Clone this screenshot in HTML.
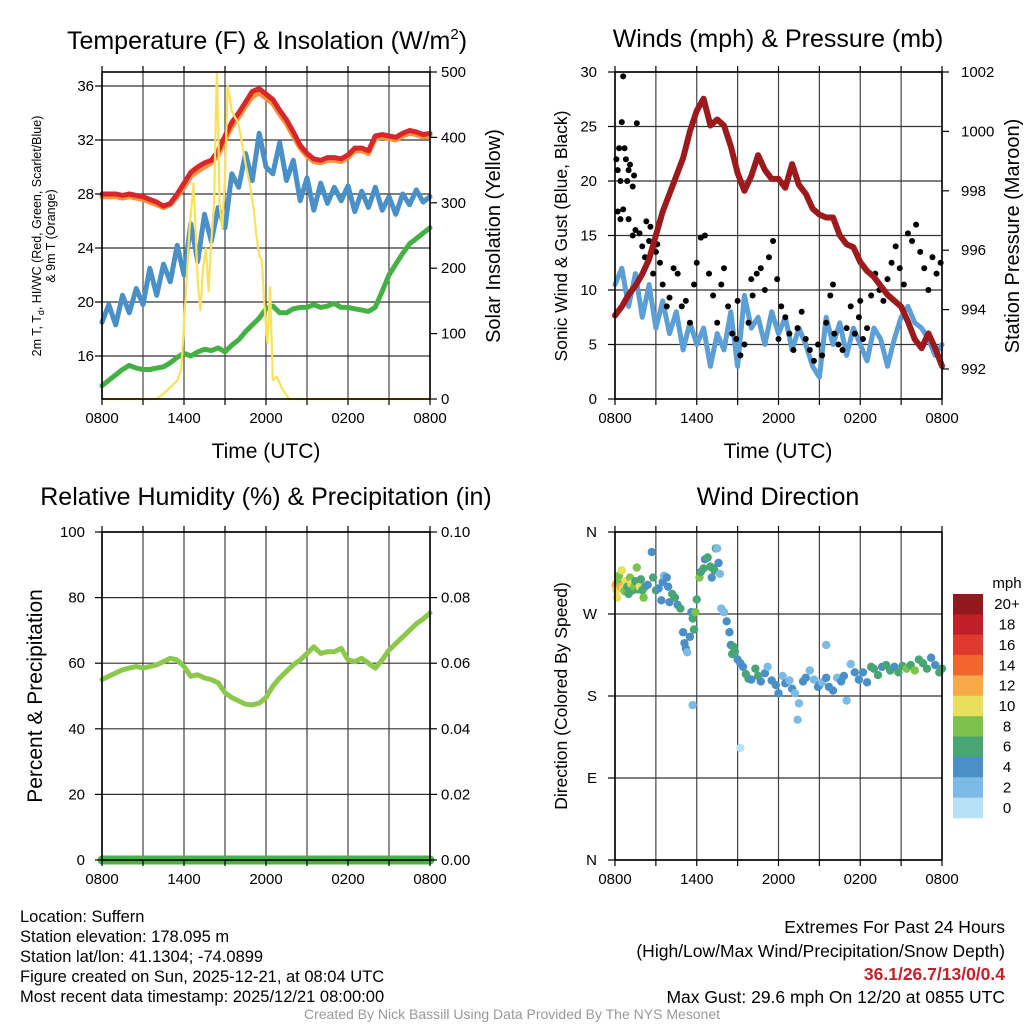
<!DOCTYPE html>
<html><head><meta charset="utf-8">
<style>
html,body{margin:0;padding:0;background:#fff;}
svg{display:block;font-family:"Liberation Sans",Arial,sans-serif;}
</style></head>
<body>
<svg id="chart" width="1024" height="1024" viewBox="0 0 1024 1024" xmlns="http://www.w3.org/2000/svg">
  <rect x="0" y="0" width="1024" height="1024" fill="#fff"/>
  <g id="gridLayer"></g>
  <g id="dataLayer"></g>
  <g id="axisLayer"></g>

  <text x="267" y="49" font-size="25" text-anchor="middle">Temperature (F) &amp; Insolation (W/m<tspan dy="-10" font-size="15">2</tspan><tspan dy="10">)</tspan></text>
  <text x="778" y="47" font-size="25" text-anchor="middle">Winds (mph) &amp; Pressure (mb)</text>
  <text x="266" y="505" font-size="25" text-anchor="middle">Relative Humidity (%) &amp; Precipitation (in)</text>
  <text x="778" y="505" font-size="25" text-anchor="middle">Wind Direction</text>

  <text x="266" y="458" font-size="21" text-anchor="middle">Time (UTC)</text>
  <text x="778" y="458" font-size="21" text-anchor="middle">Time (UTC)</text>

  <text transform="translate(41,236) rotate(-90)" font-size="12.5" text-anchor="middle">2m T, T<tspan dy="3" font-size="9">d</tspan><tspan dy="-3">, HI/WC (Red, Green, Scarlet/Blue)</tspan></text>
  <text transform="translate(55,236) rotate(-90)" font-size="12.5" text-anchor="middle">&amp; 9m T (Orange)</text>
  <text transform="translate(500,236) rotate(-90)" font-size="20" text-anchor="middle">Solar Insolation (Yellow)</text>
  <text transform="translate(567,236) rotate(-90)" font-size="17.5" text-anchor="middle">Sonic Wind &amp; Gust (Blue, Black)</text>
  <text transform="translate(1019,236) rotate(-90)" font-size="20" text-anchor="middle">Station Pressure (Maroon)</text>
  <text transform="translate(42,696) rotate(-90)" font-size="21" text-anchor="middle">Percent &amp; Precipitation</text>
  <text transform="translate(567,696) rotate(-90)" font-size="17.5" text-anchor="middle">Direction (Colored By Speed)</text>

  <g font-size="16.5">
    <text x="20" y="922">Location: Suffern</text>
    <text x="20" y="942">Station elevation: 178.095 m</text>
    <text x="20" y="962">Station lat/lon: 41.1304; -74.0899</text>
    <text x="20" y="982">Figure created on Sun, 2025-12-21, at 08:04 UTC</text>
    <text x="20" y="1002">Most recent data timestamp: 2025/12/21 08:00:00</text>
  </g>
  <g font-size="17.5" text-anchor="end">
    <text x="1005" y="933">Extremes For Past 24 Hours</text>
    <text x="1005" y="957">(High/Low/Max Wind/Precipitation/Snow Depth)</text>
    <text x="1005" y="980" fill="#c8202a" font-weight="bold">36.1/26.7/13/0/0.4</text>
    <text x="1005" y="1003">Max Gust: 29.6 mph On 12/20 at 0855 UTC</text>
  </g>
  <text x="512" y="1019" font-size="14" fill="#999" text-anchor="middle">Created By Nick Bassill Using Data Provided By The NYS Mesonet</text>
</svg>
<script>
const hours=[0,0.5,1,1.5,2,2.5,3,3.5,4,4.5,5,5.5,6,6.5,7,7.5,8,8.5,9,9.5,10,10.5,11,11.5,12,12.5,13,13.5,14,14.5,15,15.5,16,16.5,17,17.5,18,18.5,19,19.5,20,20.5,21,21.5,22,22.5,23,23.5,24];
const xTickLabels=['0800','1400','2000','0200','0800'];
const tempF=[28.0,28.0,28.0,27.9,28.0,27.9,27.8,27.6,27.4,27.1,27.3,28.0,28.8,29.6,30.0,30.3,30.5,31.2,32.3,33.3,34.0,34.8,35.6,35.8,35.4,35.0,34.2,33.5,32.6,31.6,31.0,30.6,30.5,30.7,30.7,30.6,30.9,31.4,31.4,31.2,32.3,32.4,32.3,32.2,32.5,32.7,32.6,32.4,32.5];
const temp9mF=[27.8,27.8,27.8,27.7,27.8,27.7,27.6,27.4,27.2,27.0,27.2,27.8,28.5,29.3,29.7,30.0,30.3,30.9,32.0,33.0,33.7,34.5,35.2,35.5,35.1,34.7,33.9,33.2,32.3,31.4,30.8,30.4,30.3,30.5,30.5,30.4,30.7,31.2,31.2,31.0,32.1,32.2,32.1,32.0,32.3,32.5,32.4,32.2,32.3];
const windChillF=[18.5,19.8,18.3,20.5,19.2,21.0,19.8,22.5,20.5,22.8,21.5,24.2,22.0,25.8,23.0,26.5,24.5,27.0,25.5,29.5,28.5,31.0,29.0,32.5,30.0,29.5,31.8,29.0,30.5,27.5,29.2,26.8,28.8,27.3,28.5,27.5,28.6,26.7,28.2,27.0,28.5,26.8,27.8,26.5,28.0,27.2,28.3,27.4,27.8];
const dewF=[13.8,14.2,14.6,15.0,15.3,15.1,15.0,15.0,15.1,15.2,15.5,15.9,16.2,16.0,16.3,16.5,16.4,16.6,16.3,16.8,17.2,17.8,18.3,18.8,19.5,19.7,19.2,19.2,19.5,19.6,19.6,19.8,19.6,19.7,19.9,19.6,19.6,19.5,19.4,19.3,19.6,20.8,22.0,22.8,23.6,24.3,24.7,25.1,25.5];
const solarT=[0,4.0,4.5,5.0,5.5,5.8,6.1,6.4,6.7,7.0,7.2,7.4,7.6,7.8,8.0,8.2,8.4,8.5,8.6,8.8,9.0,9.2,9.5,10.0,10.5,10.8,11.1,11.3,11.5,11.7,11.9,12.1,12.3,12.5,12.8,13.2,13.7,24];
const solarW=[0,0,8,18,28,45,150,260,330,180,136,200,230,165,240,300,500,420,300,260,340,479,440,420,360,330,290,250,220,212,140,85,171,29,34,15,0,0];
const windMph=[10.5,12.0,8.5,11.5,7.5,10.5,6.5,9.0,6.0,8.0,4.5,7.0,5.0,6.5,3.0,6.0,4.5,8.0,3.0,9.5,6.5,7.5,5.0,8.0,6.0,7.5,4.5,6.5,5.0,3.0,2.0,7.5,5.0,7.0,4.0,6.5,5.0,3.5,6.5,5.5,3.0,5.5,7.5,8.5,7.0,6.5,5.5,4.0,5.0];
const pressureMb=[993.8,994.1,994.5,994.8,995.2,995.7,996.5,997.3,997.9,998.5,999.1,1000.0,1000.7,1001.1,1000.2,1000.4,1000.2,999.5,998.6,998.0,998.5,999.2,998.7,998.4,998.4,998.1,998.9,998.2,997.9,997.4,997.2,997.1,997.1,996.5,996.2,996.1,995.6,995.3,995.1,994.8,994.5,994.3,994.1,993.6,993.0,992.7,993.2,992.7,992.1];
const gustT=[0.1,0.2,0.3,0.4,0.5,0.6,0.7,0.8,0.9,1.0,1.1,1.3,1.4,1.6,0.2,0.4,0.6,1.0,1.3,1.5,1.8,2.0,2.2,2.5,2.8,3.0,3.3,3.5,3.8,4.0,4.3,4.6,4.9,5.2,5.5,5.8,6.0,6.3,6.6,6.9,7.2,7.5,7.8,8.0,8.3,8.6,8.9,9.2,9.5,9.8,10.1,10.4,10.7,11.0,11.3,11.6,11.9,12.2,12.5,12.8,13.1,13.4,13.7,14.0,14.3,14.6,14.9,15.2,15.5,15.8,16.1,16.4,16.7,17.0,17.3,17.6,17.9,18.2,18.5,18.8,19.1,19.4,19.7,20.0,20.3,20.6,20.9,21.2,21.5,21.8,22.1,22.4,22.7,23.0,23.3,23.6,23.9,18.0,16.0,12.0,10.0,9.0,2.3,2.6,3.1];
const gustMph=[22,21,23,20,25.4,29.6,23,22,20,21,21.5,19.5,20.5,25.3,17.2,16.5,17.4,16.5,15.0,15.5,15.2,14.0,13.0,14.5,11.5,13.5,12.5,10.5,8.5,9.3,12.0,11.5,8.5,9.0,7.0,10.5,12.5,14.8,15.0,11.5,9.5,7.0,10.5,12.0,8.5,6.0,5.5,4.0,5.0,7.0,9.5,11.5,12.0,10.0,13.0,14.5,11.0,8.5,7.5,6.0,4.5,6.5,8.0,5.5,4.5,3.5,5.0,4.0,7.0,9.5,6.0,5.0,4.5,6.5,8.5,6.0,7.5,5.5,6.5,9.5,11.5,10.0,9.0,11.0,12.5,14.0,12.0,10.5,15.2,14.5,16.0,13.5,12.0,10.0,13.0,11.5,12.5,9.0,10.5,5.5,11.0,9.0,16.3,15.8,14.2];
const rhPct=[55,56,57,58,58.5,59,58.5,59,59.5,60.5,61.5,61,59,56,56.5,55.5,55,54,51,49.5,48.5,47.5,47.3,47.8,49.5,53,55.5,57.5,59.5,61,63,65,63,63.5,63.5,64.5,61,60.5,61.5,60,58.5,61,64,66,68,70,72,73.5,75.3];
const precipIn=[0,0,0,0,0,0,0,0,0,0,0,0,0,0,0,0,0,0,0,0,0,0,0,0,0,0,0,0,0,0,0,0,0,0,0,0,0,0,0,0,0,0,0,0,0,0,0,0,0];
const dirT=[0.05,0.1,0.15,0.2,0.3,0.4,0.5,0.6,0.7,0.8,0.9,1.0,1.1,1.2,1.3,1.4,1.5,1.6,1.7,1.8,1.9,2.0,2.1,2.2,2.4,2.7,2.8,3.0,3.2,3.4,3.5,3.6,3.8,3.9,4.0,4.2,4.4,4.6,4.8,5.0,5.1,5.2,5.3,5.5,5.6,5.7,5.8,5.9,6.0,6.2,6.3,6.5,6.6,6.8,7.0,7.1,7.2,7.3,7.4,7.5,7.6,7.7,7.8,8.0,8.2,8.4,8.5,8.6,8.7,8.8,9.0,9.2,9.4,9.6,9.8,10.0,10.3,10.5,10.7,11.0,11.2,11.5,11.8,12.0,12.3,12.5,12.8,13.0,13.2,13.5,13.8,14.0,14.3,14.6,14.9,15.0,15.2,15.5,15.7,16.0,16.3,16.6,16.8,17.0,17.3,17.6,17.9,18.2,18.5,18.8,19.0,19.3,19.6,19.9,20.2,20.5,20.8,21.1,21.4,21.7,22.0,22.3,22.6,22.9,23.2,23.5,23.8,24.0,9.2,5.7,13.4,15.5];
const dirDeg=[302,296,288,305,312,300,318,298,295,306,300,292,310,303,296,300,306,321,297,300,308,296,288,300,302,338,310,296,298,285,305,312,310,300,283,292,288,280,276,250,238,232,228,245,272,265,253,272,286,310,316,320,330,332,322,310,320,318,342,342,326,314,276,272,262,250,236,226,234,229,220,216,212,204,199,198,210,202,196,205,212,197,192,183,202,194,197,188,183,172,196,200,208,198,190,192,195,200,190,186,200,196,202,175,215,206,198,206,195,212,210,203,212,214,208,212,206,213,210,214,208,220,216,210,222,214,206,210,123,170,154,236];
const dirSpeed=[12,10,10,9,8,12,10,11,8,10,6,7,9,10,6,8,6,8,7,10,6,7,8,6,5,4,6,6,4,4,4,3,4,4,4,6,6,4,6,4,4,4,2,4,4,6,6,8,6,8,6,6,4,6,6,4,6,6,6,2,4,2,2,2,4,4,4,6,6,6,4,4,4,6,6,4,6,6,4,4,2,4,4,4,2,4,2,4,2,2,4,4,2,2,4,4,2,4,4,4,2,4,4,2,2,4,4,4,4,6,6,6,4,6,6,4,6,6,8,6,8,6,6,6,4,4,6,6,0,2,2,2];
const speedBins=['0','2','4','6','8','10','12','14','16','18','20+'];
const speedColors=['#b6e1f6','#7cbbe5','#4b8fc7','#47a673','#7dc24c','#e6e05c','#f8a94a','#f0662c','#e03a2e','#bf1f27','#93181d'];
const tempTicks=[16,20,24,28,32,36];
const solarTicks=[0,100,200,300,400,500];
const windTicks=[0,5,10,15,20,25,30];
const pressTicks=[992,994,996,998,1000,1002];
const rhTicks=[0,20,40,60,80,100];
const precipTicks=['0.00','0.02','0.04','0.06','0.08','0.10'];
const dirTicks=[0,90,180,270,360];
const dirTickLabels=['N','E','S','W','N'];

const NS='http://www.w3.org/2000/svg';
const grid=document.getElementById('gridLayer');
const dataL=document.getElementById('dataLayer');
const axis=document.getElementById('axisLayer');
function mk(tag,attrs,parent){const e=document.createElementNS(NS,tag);for(const k in attrs)e.setAttribute(k,attrs[k]);parent.appendChild(e);return e;}

const P1={x0:102,x1:430,y0:72,y1:399};
const P2={x0:615,x1:942,y0:72,y1:399};
const P3={x0:102,x1:430,y0:532,y1:860};
const P4={x0:615,x1:942,y0:532,y1:860};
function sx(p,h){return p.x0+h/24*(p.x1-p.x0);}
const yTemp=v=>86+(36-v)*13.5;
const ySolar=v=>399-v/500*327;
const yWind=v=>399-v*10.9;
const yPress=v=>369-(v-992)*29.7;
const yRH=v=>860-v*3.28;
const yPrecip=v=>860-v*3280;
const yDir=d=>532+(360-d)/360*328;

function frame(p,name,leftVals,leftScale,leftLabels,rightVals,rightScale,rightLabels,lx,rx){
  for(let i=0;i<=8;i++){
    const x=p.x0+i*(p.x1-p.x0)/8;
    const gl=mk('line',{x1:x,y1:p.y0,x2:x,y2:p.y1,stroke:'#444','stroke-width':1.2},grid);
    
    
    const tk=mk('line',{x1:x,y1:p.y1,x2:x,y2:p.y1+6,stroke:'#000','stroke-width':1.2},axis);
    
    
    if(i%2===0){
      const t=mk('text',{x:x,y:p.y1+24,'font-size':15,'text-anchor':'middle'},axis);
      t.textContent=xTickLabels[i/2];
      
      
    }
    const tt=mk('line',{x1:x,y1:p.y0,x2:x,y2:p.y0-6,stroke:'#000','stroke-width':1.2},axis);
    
    
  }
  leftVals.forEach((v,i)=>{
    const y=leftScale(v);
    const gl=mk('line',{x1:p.x0,y1:y,x2:p.x1,y2:y,stroke:'#333','stroke-width':1.2},grid);
    
    
    const tk=mk('line',{x1:p.x0-7,y1:y,x2:p.x0,y2:y,stroke:'#000','stroke-width':1.2},axis);
    
    
    const t=mk('text',{x:lx,y:y+5,'font-size':15,'text-anchor':'end'},axis);
    t.textContent=leftLabels[i];
    
    
  });
  if(rightVals){
    rightVals.forEach((v,i)=>{
      const y=rightScale(v);
      const tk=mk('line',{x1:p.x1,y1:y,x2:p.x1+7,y2:y,stroke:'#000','stroke-width':1.2},axis);
      
      
      const t=mk('text',{x:rx,y:y+5,'font-size':15,'text-anchor':'start'},axis);
      t.textContent=rightLabels[i];
      
      
    });
  }
  const fr=mk('rect',{x:p.x0,y:p.y0,width:p.x1-p.x0,height:p.y1-p.y0,fill:'none',stroke:'#000','stroke-width':1.6},axis);
  
  
}
frame(P1,'temperature-panel',tempTicks,yTemp,tempTicks.map(String),solarTicks,ySolar,solarTicks.map(String),94,441);
frame(P2,'winds-panel',windTicks,yWind,windTicks.map(String),pressTicks,yPress,pressTicks.map(String),597,961);
frame(P3,'humidity-panel',rhTicks,yRH,rhTicks.map(String),[0,0.02,0.04,0.06,0.08,0.1],yPrecip,precipTicks,85,441);
frame(P4,'direction-panel',dirTicks,yDir,dirTickLabels,null,null,null,597,0);

function series(p,ts,vs,ys,color,w,name){
  const d=ts.map((t,i)=>(i?'L':'M')+sx(p,t).toFixed(1)+' '+ys(vs[i]).toFixed(1)).join(' ');
  const e=mk('path',{d:d,fill:'none',stroke:color,'stroke-width':w,'stroke-linejoin':'round','stroke-linecap':'round'},dataL);
  
  
}
series(P1,hours,dewF,yTemp,'#45b043',5,'dewpoint-line');
series(P1,hours,windChillF,yTemp,'#4a90c8',5,'wind-chill-line');
series(P1,hours,temp9mF,yTemp,'#f7913a',5,'temp-9m-line');
series(P1,hours,tempF,yTemp,'#d9262a',5,'temp-2m-line');
series(P1,solarT,solarW,ySolar,'#fbe15a',2.2,'solar-line');

series(P2,hours,windMph,yWind,'#5b9fd6',5,'sonic-wind-line');
gustT.forEach((t,i)=>{
  const c=mk('circle',{cx:sx(P2,t),cy:yWind(gustMph[i]),r:3,fill:'#000'},dataL);
  
  
});
series(P2,hours,pressureMb,yPress,'#9c1a1c',6,'pressure-line');

series(P3,hours,rhPct,yRH,'#8cc84b',5,'relative-humidity-line');
series(P3,hours,precipIn,yPrecip,'#48b048',9,'precipitation-line');

dirT.forEach((t,i)=>{
  const b=Math.min(10,Math.floor(dirSpeed[i]/2));
  const c=mk('circle',{cx:sx(P4,t),cy:yDir(dirDeg[i]),r:4.2,fill:speedColors[b]},dataL);
  
  
});

const cbTop=594,cbBot=818,bh=(cbBot-cbTop)/speedBins.length;
speedBins.forEach((lab,i)=>{
  const k=speedBins.length-1-i;
  const y=cbTop+i*bh;
  const r=mk('rect',{x:953,y:y,width:30,height:bh+0.3,fill:speedColors[k]},axis);
  
  
  const t=mk('text',{x:1007,y:y+bh/2+5,'font-size':15,'text-anchor':'middle'},axis);
  t.textContent=speedBins[k];
  
  
});
const mph=mk('text',{x:1007,y:588,'font-size':15,'text-anchor':'middle'},axis);
mph.textContent='mph';


</script>
</body></html>
